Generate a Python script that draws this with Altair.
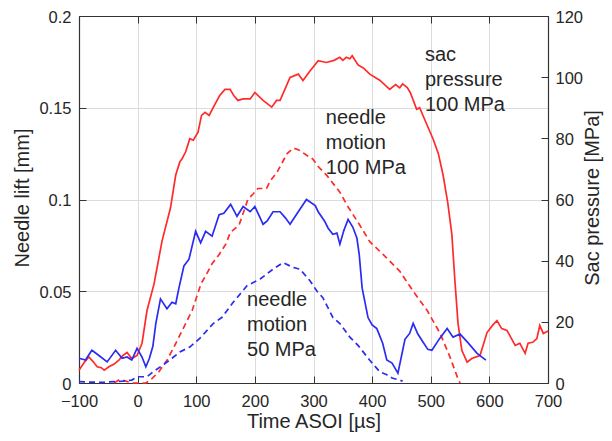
import altair as alt
import pandas as pd

# Sac pressure 100 MPa (red solid, right axis, MPa)
red_solid_t = [-100, -90, -83, -76, -69, -62, -57, -49, -40, -32, -25, -18, -10, -1, 7.5, 16, 28, 41.6, 56, 65, 72, 76, 82, 89, 95, 103, 109, 115, 122, 132, 140, 149, 157.6, 164, 171, 180, 192, 200, 214, 228.7, 237, 243, 260, 274, 282, 294, 308, 322, 335, 345, 350, 356, 362, 366, 376, 385, 396, 413, 430, 440, 447, 452, 460, 465, 476, 481, 490, 504, 513, 521, 529, 536, 541, 546.5, 553, 562, 570, 584, 596, 606, 613, 621, 630, 644, 652, 661, 666, 674, 681, 686, 692, 700]
red_solid_v = [4.2, 7, 8.5, 7, 5.3, 5, 4.2, 5.3, 6.2, 7.5, 9, 10, 8, 9, 13, 23.7, 32.4, 46.4, 57.2, 68, 72.3, 73.4, 75.6, 79.9, 79.4, 82, 87.5, 88.5, 87.5, 91.2, 94, 96, 96, 94, 92.4, 92.9, 92.9, 95, 92.4, 90.2, 92.4, 92.4, 99.9, 101, 98.9, 102, 105.4, 104.8, 105.5, 106.5, 105.5, 106.5, 106, 107, 104, 103, 101, 99, 96, 97.6, 96.5, 97.8, 96.6, 95, 89.5, 90, 86, 79.8, 75, 68, 59, 48.6, 34, 19.5, 10.7, 6.8, 8, 9, 16.5, 19, 20.4, 17.8, 17.2, 12.3, 13, 9.7, 13, 13.3, 14.5, 18.8, 16.2, 17]

# Sac pressure 50 MPa (blue solid, right axis, MPa)
blue_solid_t = [-100, -89, -78, -66, -52, -37.5, -26.5, -18, -10, -1, 7.5, 14, 20, 26, 31, 39, 50, 58.6, 65, 70.6, 79, 87.6, 99, 107.5, 116, 127, 139, 147, 158.7, 169.5, 180, 192, 200, 209, 214, 221, 231, 243, 252, 260, 274, 288, 303, 308, 319, 325, 333, 340, 345, 352, 359, 367, 374, 378, 383, 393, 400, 408, 418, 425, 434, 444, 456, 464, 470, 478, 487, 495, 502, 515, 528, 538, 550, 563, 579, 594]
blue_solid_v = [8.1, 7.5, 10.7, 9, 6.9, 10.7, 8.1, 8.5, 7.5, 11.3, 8.5, 5.3, 8, 12, 19.4, 27.5, 24.3, 26.4, 25.9, 31.2, 38.3, 40.5, 49.6, 45.8, 49.6, 48, 55, 55.5, 58.4, 54.5, 57.7, 56, 57.7, 54, 51.9, 53, 56, 56, 54, 51.9, 56, 60, 58, 56, 52.9, 50.6, 48.6, 49, 45.4, 50, 53.5, 51, 47.4, 42, 31, 21.4, 19, 17.8, 13, 7.5, 6.5, 3.2, 14.3, 16.2, 19.5, 16, 13.3, 11, 10.7, 14.5, 17.8, 15, 16, 13.3, 9.7, 7.5]

# Needle motion 100 MPa (red dashed, left axis, mm)
red_dash_t = [-40, -30, -20, -10, 0, 14, 22, 36, 50, 62, 76, 93, 108, 117, 127, 139, 151, 158, 173, 188, 197, 205, 220, 226, 238, 255, 266, 275, 289, 299, 308, 323, 345, 357, 367, 379, 396, 419, 447, 470, 494, 516, 533, 546, 550]
red_dash_v = [0.0, 0.002, 0.001, 0.0, 0.0, 0.0, 0.0016, 0.006, 0.0124, 0.0196, 0.0286, 0.0395, 0.054, 0.059, 0.065, 0.070, 0.076, 0.082, 0.086, 0.100, 0.103, 0.106, 0.106, 0.110, 0.115, 0.125, 0.128, 0.127, 0.124, 0.122, 0.118, 0.113, 0.104, 0.097, 0.092, 0.086, 0.077, 0.070, 0.061, 0.050, 0.0395, 0.027, 0.014, 0.0027, 0.0]

# Needle motion 50 MPa (blue dashed, left axis, mm)
blue_dash_t = [-100, -80, -60, -40, -25, -10, 0, 16, 26, 43, 58.6, 72, 89, 106, 129, 144, 163, 186.6, 209, 231, 248, 265, 277, 294, 306, 316, 333, 345, 362, 376, 396, 413, 425, 434, 447, 452]
blue_dash_v = [0.0007, 0.0005, 0.0003, 0.0008, 0.001, 0.0016, 0.0034, 0.0034, 0.006, 0.0097, 0.0135, 0.0169, 0.0196, 0.0243, 0.0324, 0.0358, 0.044, 0.053, 0.0567, 0.062, 0.0656, 0.063, 0.062, 0.0557, 0.050, 0.0465, 0.0357, 0.0324, 0.025, 0.0205, 0.0124, 0.0061, 0.0045, 0.0027, 0.0016, 0.001]

# Annotations (anchor in data units: time, needle lift)
ann_text = ["sac\npressure\n100 MPa", "needle\nmotion\n100 MPa", "needle\nmotion\n50 MPa"]
ann_t = [490, 321, 186.6]
ann_mm = [0.1757, 0.1411, 0.0422]

x_ticks = [-100, 0, 100, 200, 300, 400, 500, 600, 700]
mm_ticks = [0, 0.05, 0.1, 0.15, 0.2]
mpa_ticks = [0, 20, 40, 60, 80, 100, 120]

W, H = 469, 367
FONT = "Liberation Sans"
TXT = "#262626"
RED = "#ff2b2b"
BLUE = "#2b2bf2"
AX = "#333333"

xs = alt.Scale(domain=[-100, 700], nice=False, zero=False)
mms = alt.Scale(domain=[0, 0.2], nice=False, zero=False)
mps = alt.Scale(domain=[0, 120], nice=False, zero=False)

df_rs = pd.DataFrame({"t": red_solid_t, "v": red_solid_v})
df_bs = pd.DataFrame({"t": blue_solid_t, "v": blue_solid_v})
df_rd = pd.DataFrame({"t": red_dash_t, "v": red_dash_v})
df_bd = pd.DataFrame({"t": blue_dash_t, "v": blue_dash_v})
df_ann = pd.DataFrame({"txt": ann_text, "t": ann_t, "v": ann_mm})

lab = dict(labelFont=FONT, labelFontSize=16.5, labelColor=TXT,
           titleFont=FONT, titleFontSize=20, titleFontWeight="normal", titleColor=TXT)

# Layer A: red dashed, main bottom + left axes
axA_x = alt.Axis(orient="bottom", values=x_ticks, tickSize=0, labelPadding=10, labelFlush=False,
                 labelOverlap=False, grid=True, gridColor="#dcdcdc", gridWidth=1,
                 domainColor=AX, domainWidth=1.2, title="Time ASOI [µs]",
                 titleX=W / 2, titleY=38, titleBaseline="middle", titleAlign="center", **lab)
axA_y = alt.Axis(orient="left", values=mm_ticks, format="~g", tickSize=0, labelPadding=8,
                 labelOffset=1, grid=True, gridColor="#dcdcdc", gridWidth=1,
                 domainColor=AX, domainWidth=1.2,
                 title="Needle lift [mm]", titleX=-57, titleY=181.5, titleAngle=270,
                 titleBaseline="middle", titleAlign="center", **lab)
A = alt.Chart(df_rd).mark_line(strokeDash=[6, 4], strokeWidth=1.7).encode(
    x=alt.X("t:Q", scale=xs, axis=axA_x),
    y=alt.Y("v:Q", scale=mms, axis=axA_y),
    color=alt.value(RED),
)

# Layer B: blue dashed, inward ticks at bottom and left
axB_x = alt.Axis(orient="top", offset=-H, values=x_ticks, tickSize=7, tickColor=AX, labels=False,
                 domain=False, grid=False, title=None)
axB_y = alt.Axis(orient="right", offset=-W, values=mm_ticks, tickSize=7, tickColor=AX, labels=False,
                 domain=False, grid=False, title=None)
B = alt.Chart(df_bd).mark_line(strokeDash=[6, 4], strokeWidth=1.7).encode(
    x=alt.X("t:Q", scale=xs, axis=axB_x),
    y=alt.Y("v:Q", scale=mms, axis=axB_y),
    color=alt.value(BLUE),
)

# Layer C: red solid, right axis + top box line with inward ticks
axC_x = alt.Axis(orient="bottom", offset=-H, values=x_ticks, tickSize=7, tickColor=AX, labels=False,
                 domain=True, domainColor=AX, domainWidth=1.2, grid=False, title=None)
axC_y = alt.Axis(orient="right", values=mpa_ticks, tickSize=0, labelPadding=7, labelOffset=1,
                 grid=False, domainColor=AX, domainWidth=1.2, title="Sac pressure [MPa]",
                 titleX=44, titleY=181.5, titleAngle=270, titleBaseline="middle",
                 titleAlign="center", **lab)
C = alt.Chart(df_rs).mark_line(strokeWidth=1.7).encode(
    x=alt.X("t:Q", scale=xs, axis=axC_x),
    y=alt.Y("v:Q", scale=mps, axis=axC_y),
    color=alt.value(RED),
)

# Layer D: blue solid, inward ticks on the right
axD_y = alt.Axis(orient="left", offset=-W, values=mpa_ticks, tickSize=7, tickColor=AX, labels=False,
                 domain=False, grid=False, title=None)
D = alt.Chart(df_bs).mark_line(strokeWidth=1.7).encode(
    x=alt.X("t:Q", scale=xs, axis=None),
    y=alt.Y("v:Q", scale=mps, axis=axD_y),
    color=alt.value(BLUE),
)

E = alt.Chart(df_ann).mark_text(align="left", baseline="alphabetic", lineBreak="\n", lineHeight=25,
                                 font=FONT, fontSize=20, color=TXT).encode(
    x=alt.X("t:Q", scale=xs, axis=None),
    y=alt.Y("v:Q", scale=mms, axis=None),
    text="txt:N",
)

chart = alt.layer(A, B, C, D, E).resolve_scale(y="independent").resolve_axis(
    x="independent", y="independent"
).properties(
    width=W, height=H,
    autosize=alt.AutoSizeParams(type="none"),
    padding={"left": 71, "top": 8, "right": 56, "bottom": 50},
).configure_view(stroke=None).configure(background="white")

chart.save("out.html", embed_options={"renderer": "svg", "actions": False})
